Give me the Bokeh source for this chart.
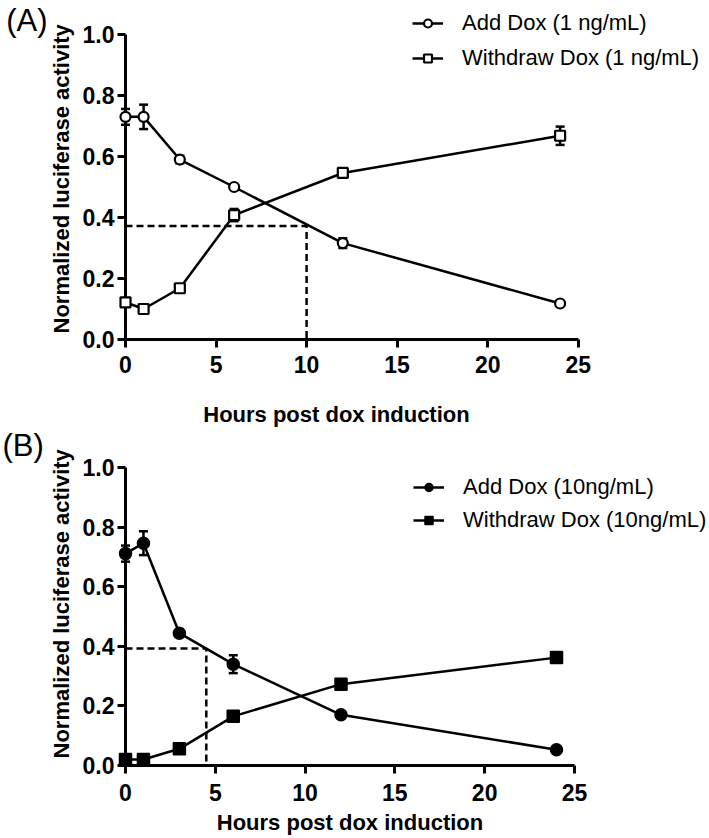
from bokeh.plotting import figure
from bokeh.layouts import column
from bokeh.models import (Range1d, Legend, LegendItem, FixedTicker, NumeralTickFormatter,
                          ColumnDataSource, Title)
from bokeh.core.properties import value
from bokeh.embed import file_html
from bokeh.resources import INLINE

# ---------------- data ----------------
hours = [0, 1, 3, 6, 12, 24]
x_ticks = [0, 5, 10, 15, 20, 25]
y_ticks = [0.0, 0.2, 0.4, 0.6, 0.8, 1.0]

a_add = [0.73, 0.73, 0.59, 0.50, 0.316, 0.118]
a_add_err = [0.026, 0.04, 0.012, 0.006, 0.016, 0.006]
a_wd = [0.122, 0.10, 0.168, 0.408, 0.546, 0.668]
a_wd_err = [0.008, 0.006, 0.006, 0.02, 0.008, 0.03]
a_half_time = 10.0
a_half_level = 0.372

b_add = [0.711, 0.746, 0.444, 0.34, 0.17, 0.053]
b_add_err = [0.027, 0.04, 0.008, 0.03, 0.008, 0.005]
b_wd = [0.02, 0.02, 0.056, 0.165, 0.273, 0.362]
b_wd_err = [0.005, 0.005, 0.006, 0.006, 0.006, 0.006]
b_half_time = 4.5
b_half_level = 0.393

labels_a = ["Add Dox (1 ng/mL)", "Withdraw Dox (1 ng/mL)"]
labels_b = ["Add Dox (10ng/mL)", "Withdraw Dox (10ng/mL)"]
x_title = "Hours post dox induction"
y_title = "Normalized luciferase activity"

FONT = "Liberation Sans"


def make_panel(tag, tag_xy, add, add_err, wd, wd_err, half_t, half_l, labels, filled,
               width, height, borders, x_end, y_end, tick_standoff, legend_loc, legend_spacing,
               y_title_offset, x_title_xy, y_title_standoff=12):
    left, right, top, bottom = borders
    p = figure(width=width, height=height,
               x_range=Range1d(0, x_end), y_range=Range1d(0, y_end),
               output_backend="svg", toolbar_location=None,
               min_border_left=left, min_border_right=right,
               min_border_top=top, min_border_bottom=bottom)
    p.outline_line_color = None
    p.xgrid.visible = False
    p.ygrid.visible = False
    p.background_fill_color = "white"

    for ax in (p.xaxis[0], p.yaxis[0]):
        ax.axis_line_width = 3
        ax.major_tick_line_width = 3
        ax.major_tick_out = 8
        ax.major_tick_in = 0
        ax.minor_tick_line_color = None
        ax.major_label_text_font = FONT
        ax.major_label_text_font_style = "bold"
        ax.major_label_text_font_size = "23px"
        ax.major_label_text_color = "black"
        ax.axis_line_color = "black"
        ax.major_tick_line_color = "black"
    p.xaxis.ticker = FixedTicker(ticks=x_ticks)
    p.yaxis.ticker = FixedTicker(ticks=y_ticks)
    p.xaxis.bounds = (x_ticks[0], x_ticks[-1])
    p.yaxis.bounds = (y_ticks[0], y_ticks[-1])
    p.yaxis.formatter = NumeralTickFormatter(format="0.0")
    p.xaxis.major_label_standoff = tick_standoff
    p.yaxis.major_label_standoff = 3

    # y-axis title (vertical, placed along the 0..1 part of the axis)
    p.add_layout(Title(text=y_title, align="left", offset=y_title_offset, standoff=y_title_standoff,
                       text_font=FONT, text_font_style="bold", text_font_size="22px",
                       text_color="black"), "left")
    # x-axis title, centred under the tick span
    p.text(x=[x_title_xy[0]], y=[x_title_xy[1]], text=[x_title], text_font=value(FONT),
           text_font_style="bold", text_font_size="22px", text_align="center",
           text_baseline="middle", text_color="black", level="overlay")

    # dashed half-max guide
    p.line([0, half_t, half_t], [half_l, half_l, 0], line_color="black",
           line_width=2.5, line_dash="7 4")

    renderers = []
    for vals, errs, marker in [(add, add_err, "circle"), (wd, wd_err, "square")]:
        src = ColumnDataSource(dict(x=hours, y=vals,
                                    lo=[v - e for v, e in zip(vals, errs)],
                                    hi=[v + e for v, e in zip(vals, errs)]))
        lr = p.line("x", "y", source=src, line_color="black", line_width=2.5)
        p.segment("x", "lo", "x", "hi", source=src, line_color="black", line_width=2.5, level="overlay")
        p.scatter("x", "lo", source=src, marker="dash", size=9, line_color="black", line_width=2.5, level="overlay")
        p.scatter("x", "hi", source=src, marker="dash", size=9, line_color="black", line_width=2.5, level="overlay")
        if filled:
            sr = p.scatter("x", "y", source=src, marker=marker, size=12,
                           fill_color="black", line_color="black", line_width=1.5, level="overlay")
        else:
            sr = p.scatter("x", "y", source=src, marker=marker, size=10,
                           fill_color="white", line_color="black", line_width=2.2, level="overlay")
        renderers.append((lr, sr))

    legend = Legend(items=[LegendItem(label=labels[0], renderers=list(renderers[0])),
                           LegendItem(label=labels[1], renderers=list(renderers[1]))],
                    location=legend_loc, glyph_width=31, glyph_height=20, label_standoff=19,
                    spacing=legend_spacing, padding=0, margin=0, border_line_color=None,
                    background_fill_alpha=0, label_text_font=FONT, label_text_font_size="22px",
                    label_height=26, label_text_color="black")
    p.add_layout(legend)

    p.text(x=[tag_xy[0]], y=[tag_xy[1]], text=[tag], text_font=value(FONT), text_font_size="31px",
           text_baseline="middle", text_align="left", text_color="black", level="overlay")
    return p


pa = make_panel("(A)", (-6.59, 1.046), a_add, a_add_err, a_wd, a_wd_err, a_half_time, a_half_level,
                labels_a, False, width=709, height=428, borders=(122, 0, 0, 89),
                x_end=32.25, y_end=1.1115, tick_standoff=8, legend_loc=(287, 268), legend_spacing=9,
                y_title_offset=6, x_title_xy=(11.65, -0.246))
pb = make_panel("(B)", (-6.85, 1.074), b_add, b_add_err, b_wd, b_wd_err, b_half_time, b_half_level,
                labels_b, True, width=709, height=410, borders=(125, 0, 39, 73),
                x_end=32.52, y_end=1.0, tick_standoff=10, legend_loc=(288, 232), legend_spacing=7,
                y_title_offset=7, x_title_xy=(12.5, -0.191))

layout = column(pa, pb, spacing=0)
open("out.html", "w").write(file_html(layout, INLINE))
